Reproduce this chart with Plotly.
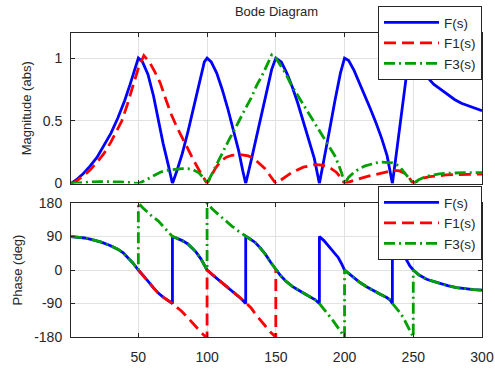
import plotly.graph_objects as go

# ---------------- data ----------------
x_ticks = [50, 100, 150, 200, 250, 300]
mag_ticks = [0, 0.5, 1]
phase_ticks = [-180, -90, 0, 90, 180]

# Magnitude |F(s)|
f_mag_x = [1, 5, 10, 15, 20, 25, 30, 35, 40, 44, 47, 50, 53, 57, 61, 64.5, 68, 71.5, 74.8,
           78, 82, 86, 89, 92, 95, 98, 100, 103, 107, 111, 115, 119, 123, 126, 128.1,
           132, 136, 140, 144, 147, 150, 154, 158, 162, 166, 170, 174, 178, 181.7,
           185, 189, 193, 197, 200, 203, 207, 211, 215, 219, 223, 227, 231, 234.8,
           237, 239, 241, 243, 245, 247, 250, 253, 256, 260, 265, 270, 275, 280, 285, 290, 295, 300]
f_mag_y = [0, 0.03, 0.08, 0.14, 0.21, 0.30, 0.40, 0.52, 0.66, 0.79, 0.90, 1.0, 0.97, 0.87, 0.70, 0.50, 0.32, 0.16, 0,
           0.10, 0.24, 0.41, 0.55, 0.70, 0.85, 0.97, 1.0, 0.97, 0.88, 0.75, 0.60, 0.44, 0.26, 0.10, 0,
           0.18, 0.37, 0.56, 0.76, 0.91, 1.0, 0.97, 0.88, 0.77, 0.64, 0.50, 0.36, 0.20, 0,
           0.18, 0.42, 0.66, 0.88, 1.0, 0.98, 0.90, 0.80, 0.70, 0.59, 0.48, 0.36, 0.22, 0,
           0.18, 0.36, 0.53, 0.70, 0.86, 0.95, 1.0, 0.97, 0.91, 0.85, 0.79, 0.75, 0.71, 0.67, 0.64, 0.62, 0.60, 0.58]

# Magnitude |F1(s)|
f1_mag_x = [1, 5, 10, 15, 20, 25, 30, 35, 38, 42, 46, 50, 54, 58, 62, 66, 70, 74, 78, 82, 86, 90, 94, 97, 100,
            103, 106, 110, 114, 118, 124, 130, 134, 138, 142, 146, 150,
            154, 158, 162, 166, 170, 174, 178, 182, 186, 190, 194, 197, 200,
            204, 208, 212, 216, 220, 224, 228, 232, 236, 240, 244, 247, 250,
            254, 258, 262, 268, 274, 280, 286, 292, 300]
f1_mag_y = [0, 0.02, 0.06, 0.11, 0.17, 0.24, 0.33, 0.43, 0.5, 0.63, 0.78, 0.92, 1.02, 0.97, 0.89, 0.80, 0.67, 0.55, 0.45, 0.36, 0.27, 0.19, 0.11, 0.05, 0,
            0.06, 0.12, 0.18, 0.21, 0.225, 0.23, 0.22, 0.20, 0.16, 0.12, 0.06, 0,
            0.03, 0.06, 0.09, 0.11, 0.13, 0.14, 0.15, 0.148, 0.14, 0.12, 0.09, 0.05, 0,
            0.015, 0.03, 0.045, 0.055, 0.065, 0.075, 0.09, 0.10, 0.105, 0.10, 0.08, 0.045, 0,
            0.025, 0.045, 0.055, 0.063, 0.068, 0.071, 0.073, 0.075, 0.075]

# Magnitude |F3(s)|
f3_mag_x = [1, 8, 15, 22, 29, 36, 43, 50, 54, 58, 62, 66, 70, 74, 78, 82, 86, 90, 94, 97, 100,
            104, 108, 112, 116, 120, 124, 128, 132, 136, 140, 144, 147, 150,
            153, 157, 161, 165, 169, 173, 177, 181, 185, 189, 193, 196, 198, 200,
            203, 207, 211, 215, 219, 223, 227, 231, 235, 238, 241, 244, 247, 250,
            254, 258, 263, 269, 275, 282, 290, 300]
f3_mag_y = [0, 0.008, 0.012, 0.015, 0.015, 0.013, 0.008, 0, 0.02, 0.045, 0.07, 0.09, 0.105, 0.11, 0.112, 0.118, 0.118, 0.108, 0.085, 0.05, 0,
            0.09, 0.18, 0.26, 0.35, 0.43, 0.52, 0.60, 0.68, 0.78, 0.86, 0.95, 1.025, 1.0,
            0.95, 0.88, 0.79, 0.72, 0.65, 0.58, 0.51, 0.44, 0.37, 0.30, 0.22, 0.14, 0.08, 0,
            0.05, 0.09, 0.12, 0.14, 0.155, 0.165, 0.17, 0.17, 0.165, 0.15, 0.12, 0.08, 0.04, 0,
            0.03, 0.05, 0.065, 0.077, 0.082, 0.086, 0.087, 0.087]

# Phase of F(s) (deg)
f_ph_x = [1, 6, 11, 17, 23, 29, 35, 39, 42.5, 46, 50, 53, 57, 61, 64.5, 68, 71.5, 74.8,
          74.8, 78, 82, 86, 89, 92, 95.5, 98, 100, 104, 108, 113, 118, 122, 125, 128.1,
          128.1, 131, 135, 139, 142.5, 146, 150, 153, 157, 162, 166, 171, 176, 179, 181.7,
          181.7, 185, 188.2, 192, 195.5, 198, 200, 203, 207, 211, 216, 221, 226, 230.7, 233, 234.8,
          234.8, 237, 239.5, 241.5, 243.5, 245.2, 247.5, 250, 254, 259.7, 264, 269.4, 275, 281.5, 288, 294, 300]
f_ph_y = [89.5, 88, 86, 81, 75, 66.5, 56, 46, 33, 19, 0, -12, -30, -48, -62, -73, -81, -90,
          90, 86, 79, 70, 60, 48, 30, 14, 0, -13, -25, -42, -56, -68, -78, -90,
          90, 84, 74, 58, 42, 22, 0, -13, -29, -44, -53, -63, -74, -81, -90,
          90, 79, 64.5, 48, 33, 16, 0, -9, -22, -33, -45, -56, -65, -74, -80, -90,
          90, 80, 66, 52, 38, 25, 11, 0, -13, -25, -30, -36, -42, -47.5, -50.5, -52.5, -54]

# Phase of F1(s) (deg) - visible part only
f1_ph_x = [50, 53, 57, 61, 64.5, 68, 71.5, 74.8, 78, 81.3, 86, 91, 95, 98.3, 100,
           100, 104, 108, 113, 118, 122, 125, 128.1, 131.9, 135.5, 139.2, 143, 146.4, 150, 150]
f1_ph_y = [0, -12, -30, -48, -62, -73, -81, -90, -100, -110, -128, -150, -165, -177, -180,
           0, -13, -25, -42, -56, -68, -78, -90, -101, -120, -137, -153, -168, -180, 0]

# Phase of F3(s) (deg)
f3_ph_x = [1, 6, 11, 17, 23, 29, 35, 39, 42.5, 46, 50,
           50, 53, 57, 60, 64.4, 68, 71.6, 74.8, 78, 82, 86, 89, 92, 95.5, 98, 100,
           100, 104, 108, 113, 118, 123, 128.1, 131, 135, 139, 142.5, 146, 150, 153, 157, 162, 166,
           171, 176, 179, 181.7, 185, 188, 192, 195.5, 198, 200,
           200, 203, 207, 211, 216, 221, 226, 230.7, 233, 234.8, 237.5, 240.5, 243, 245.2, 247.5, 250,
           250, 254, 259.7, 264, 269.4, 275, 281.5, 288, 294, 300]
f3_ph_y = [89.5, 88, 86, 81, 75, 66.5, 56, 46, 33, 19, 0,
           180, 168, 154, 144, 132, 118, 105, 90, 86, 79, 70, 60, 48, 30, 14, 0,
           180, 163, 150, 133, 118, 104, 90, 84, 74, 58, 42, 22, 0, -13, -29, -44, -53,
           -63, -74, -81, -90, -104, -119, -138, -155, -170, -180,
           0, -9, -22, -33, -45, -56, -65, -74, -80, -90, -102, -115, -130, -146, -162, -180,
           0, -13, -25, -30, -36, -42, -47.5, -50.5, -52.5, -54]

names = ["F(s)", "F1(s)", "F3(s)"]

# ---------------- styling ----------------
BLUE = "#0000ff"
RED = "#ff0000"
GREEN = "#00a000"
LW = 2.8
styles = [
    dict(color=BLUE, width=LW),
    dict(color=RED, width=LW, dash="12px,6px"),
    dict(color=GREEN, width=LW, dash="11px,4px,2px,4px"),
]
TXT = "#262626"
GRID = "#e2e2e2"

fig = go.Figure()
mags = [(f_mag_x, f_mag_y), (f1_mag_x, f1_mag_y), (f3_mag_x, f3_mag_y)]
phs = [(f_ph_x, f_ph_y), (f1_ph_x, f1_ph_y), (f3_ph_x, f3_ph_y)]
for (mx, my), nm, st in zip(mags, names, styles):
    fig.add_trace(go.Scatter(x=mx, y=my, mode="lines", name=nm, line=st,
                             xaxis="x", yaxis="y", legend="legend"))
for (px, py), nm, st in zip(phs, names, styles):
    fig.add_trace(go.Scatter(x=px, y=py, mode="lines", name=nm, line=st,
                             xaxis="x2", yaxis="y2", legend="legend2"))

axis_common = dict(
    showline=True, linecolor=TXT, linewidth=1, mirror="allticks",
    ticks="inside", ticklen=4, tickwidth=1, tickcolor=TXT,
    showgrid=True, gridcolor=GRID, gridwidth=1, zeroline=False,
    tickfont=dict(size=14, color=TXT), automargin=False,
)

H_PLOT = 304.0
top_lo = (337 - 183.5) / H_PLOT
bot_hi = (337 - 203) / H_PLOT

legend_common = dict(
    x=1, xanchor="right", yanchor="top", bgcolor="white",
    bordercolor=TXT, borderwidth=1, font=dict(size=13.5, color=TXT),
    traceorder="normal", itemwidth=55,
)

fig.update_layout(
    width=495, height=374,
    margin=dict(l=71, r=13, t=33, b=37, autoexpand=False),
    paper_bgcolor="white", plot_bgcolor="white",
    font=dict(family="Liberation Sans, Arial, sans-serif", size=14, color=TXT),
    title=dict(text="Bode Diagram", x=0.5, xref="paper", xanchor="center",
               y=1 - 11 / 374, yref="container", yanchor="middle",
               font=dict(size=13, color=TXT)),
    xaxis=dict(domain=[0, 1], anchor="y", range=[1, 300], tickvals=x_ticks,
               showticklabels=False, **axis_common),
    yaxis=dict(domain=[top_lo, 1], anchor="x", range=[0, 1.2], tickvals=mag_ticks,
               ticktext=["0", "0.5", "1"], ticklabelstandoff=5,
               title=dict(text="Magnitude (abs)", font=dict(size=13, color=TXT), standoff=8),
               **axis_common),
    xaxis2=dict(domain=[0, 1], anchor="y2", range=[1, 300], tickvals=x_ticks,
                ticktext=[str(v) for v in x_ticks], ticklabelstandoff=7, **axis_common),
    yaxis2=dict(domain=[0, bot_hi], anchor="x2", range=[-180, 180], tickvals=phase_ticks,
                ticktext=[str(v) for v in phase_ticks], ticklabelstandoff=5,
                title=dict(text="Phase (deg)", font=dict(size=13, color=TXT), standoff=8),
                **axis_common),
    legend=dict(y=(337 - 6) / H_PLOT, **legend_common),
    legend2=dict(y=(337 - 186) / H_PLOT, **legend_common),
    showlegend=True,
    annotations=[dict(text="Frequency (Hz)", xref="paper", yref="paper", x=0.5,
                      y=(337 - 381) / H_PLOT, xanchor="center", yanchor="middle",
                      showarrow=False, font=dict(size=14, color="#9a9a9a"))],
)

fig.write_html("out.html", config={"displayModeBar": False},
               post_script="document.body.style.margin='0';")
